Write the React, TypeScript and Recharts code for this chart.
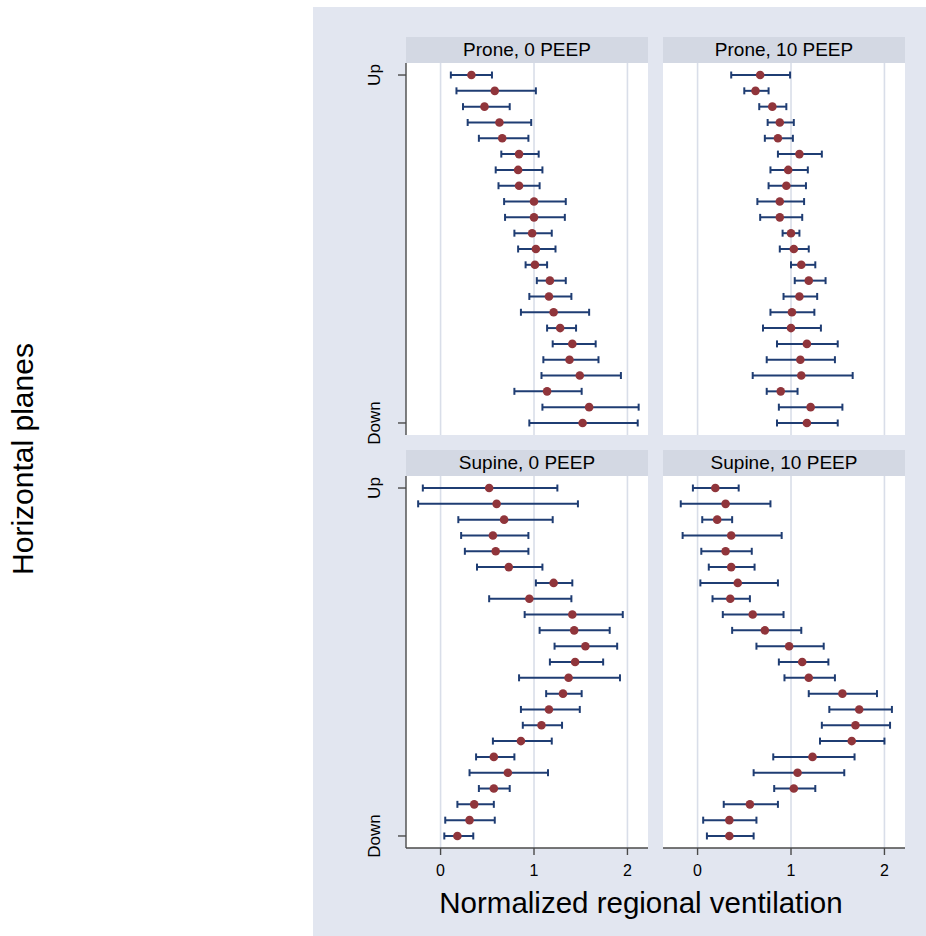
import { ScatterChart, Scatter, XAxis, YAxis, ErrorBar, ReferenceLine } from 'recharts'

// 23 horizontal planes, 1 = Up (top), 23 = Down (bottom)
const planes = [1, 2, 3, 4, 5, 6, 7, 8, 9, 10, 11, 12, 13, 14, 15, 16, 17, 18, 19, 20, 21, 22, 23]
const xTicks = [0, 1, 2]
const yTicks = [1, 23]
const yTickLabels = ['Up', 'Down']

const proneZeroMean = [0.33, 0.58, 0.47, 0.63, 0.66, 0.84, 0.83, 0.84, 1.0, 1.0, 0.98, 1.02, 1.01, 1.17, 1.16, 1.21, 1.28, 1.41, 1.38, 1.49, 1.14, 1.59, 1.52]
const proneZeroLo = [0.11, 0.17, 0.24, 0.29, 0.41, 0.65, 0.59, 0.62, 0.68, 0.69, 0.79, 0.83, 0.91, 1.03, 0.95, 0.86, 1.14, 1.2, 1.1, 1.08, 0.79, 1.09, 0.95]
const proneZeroHi = [0.55, 1.02, 0.74, 0.97, 0.94, 1.05, 1.09, 1.06, 1.34, 1.33, 1.19, 1.23, 1.14, 1.34, 1.4, 1.59, 1.45, 1.66, 1.69, 1.93, 1.51, 2.12, 2.11]

const proneTenMean = [0.67, 0.62, 0.8, 0.88, 0.86, 1.09, 0.97, 0.95, 0.88, 0.88, 1.0, 1.03, 1.11, 1.19, 1.09, 1.01, 1.0, 1.17, 1.1, 1.11, 0.89, 1.21, 1.17]
const proneTenLo = [0.36, 0.5, 0.66, 0.75, 0.72, 0.86, 0.78, 0.76, 0.64, 0.67, 0.91, 0.88, 1.0, 1.04, 0.92, 0.78, 0.7, 0.85, 0.74, 0.59, 0.74, 0.87, 0.85]
const proneTenHi = [0.99, 0.76, 0.95, 1.03, 1.02, 1.33, 1.18, 1.16, 1.14, 1.12, 1.09, 1.19, 1.26, 1.37, 1.28, 1.25, 1.32, 1.5, 1.47, 1.66, 1.07, 1.55, 1.5]

const supineZeroMean = [0.52, 0.6, 0.68, 0.56, 0.59, 0.73, 1.21, 0.95, 1.41, 1.43, 1.55, 1.44, 1.37, 1.31, 1.16, 1.08, 0.86, 0.57, 0.72, 0.57, 0.36, 0.31, 0.18]
const supineZeroLo = [-0.19, -0.24, 0.19, 0.22, 0.26, 0.39, 1.02, 0.52, 0.9, 1.06, 1.22, 1.17, 0.84, 1.13, 0.86, 0.88, 0.56, 0.38, 0.31, 0.41, 0.18, 0.05, 0.04]
const supineZeroHi = [1.25, 1.47, 1.2, 0.94, 0.94, 1.09, 1.41, 1.4, 1.95, 1.81, 1.89, 1.74, 1.92, 1.51, 1.49, 1.3, 1.19, 0.79, 1.15, 0.74, 0.57, 0.58, 0.35]

const supineTenMean = [0.19, 0.3, 0.21, 0.36, 0.3, 0.36, 0.43, 0.35, 0.59, 0.72, 0.98, 1.12, 1.19, 1.55, 1.73, 1.69, 1.65, 1.23, 1.07, 1.03, 0.56, 0.34, 0.34]
const supineTenLo = [-0.05, -0.18, 0.05, -0.16, 0.04, 0.12, 0.03, 0.16, 0.27, 0.37, 0.63, 0.87, 0.93, 1.19, 1.41, 1.33, 1.31, 0.81, 0.6, 0.82, 0.28, 0.06, 0.1]
const supineTenHi = [0.44, 0.78, 0.37, 0.9, 0.58, 0.61, 0.86, 0.56, 0.92, 1.11, 1.35, 1.4, 1.47, 1.92, 2.08, 2.06, 2.0, 1.68, 1.57, 1.26, 0.86, 0.63, 0.6]

const FONT = '"Liberation Sans", Arial, Helvetica, sans-serif'
const BG = '#E2E6F0'
const STRIP = '#D3D8E3'
const GRID = '#D9DEE9'
const NAVY = '#1F3D73'
const MAROON = '#90353B'
const AXIS = '#4A4A4A'

const PLOT_W = 242
const PLOT_H = 372
const Y_W = 50
const X_H = 44
const STRIP_H = 26
const PAD = 28 // room for the rotated "Down" label below the plot

function buildRows(mean: number[], lo: number[], hi: number[]) {
  return planes.map((p, i) => ({
    plane: p,
    value: mean[i],
    err: [mean[i] - lo[i], hi[i] - mean[i]],
  }))
}

function PlaneTick(props: any) {
  const { x, y, payload } = props
  const label = yTickLabels[yTicks.indexOf(payload.value)]
  const bx = x - 16
  return (
    <text
      x={bx}
      y={y}
      transform={`rotate(-90, ${bx}, ${y})`}
      textAnchor="middle"
      fontSize={17}
      fontFamily={FONT}
      fill="#000"
    >
      {label}
    </text>
  )
}

function Dot(props: any) {
  const { cx, cy } = props
  if (cx == null || cy == null) return null
  return <circle cx={cx} cy={cy} r={4.3} fill={MAROON} />
}

interface PanelProps {
  title: string
  mean: number[]
  lo: number[]
  hi: number[]
  plotLeft: number
  plotTop: number
  showY: boolean
  showX: boolean
}

function Panel({ title, mean, lo, hi, plotLeft, plotTop, showY, showX }: PanelProps) {
  const data = buildRows(mean, lo, hi)
  const yw = showY ? Y_W : 0
  const xh = showX ? X_H : 0
  const bottomPad = showX ? 0 : PAD
  return (
    <>
      <div
        style={{
          position: 'absolute',
          left: plotLeft,
          top: plotTop - STRIP_H,
          width: PLOT_W,
          height: STRIP_H,
          background: STRIP,
          textAlign: 'center',
          lineHeight: `${STRIP_H}px`,
          fontSize: 19,
          fontFamily: FONT,
          color: '#000',
        }}
      >
        {title}
      </div>
      <div
        style={{
          position: 'absolute',
          left: plotLeft,
          top: plotTop,
          width: PLOT_W,
          height: PLOT_H,
          background: '#fff',
        }}
      />
      <div style={{ position: 'absolute', left: plotLeft - yw, top: plotTop }}>
        <ScatterChart
          width={PLOT_W + yw}
          height={PLOT_H + xh + bottomPad}
          margin={{ top: 0, right: 0, bottom: bottomPad, left: 0 }}
        >
          <XAxis
            type="number"
            dataKey="value"
            domain={[-0.37, 2.22]}
            allowDataOverflow
            ticks={xTicks}
            hide={!showX}
            height={X_H}
            tickSize={7}
            tickMargin={10}
            tick={{ fontSize: 16, fill: '#000', fontFamily: FONT }}
            axisLine={{ stroke: AXIS, strokeWidth: 1.4 }}
            tickLine={{ stroke: AXIS, strokeWidth: 1.4 }}
          />
          <YAxis
            type="number"
            dataKey="plane"
            domain={[0.24, 23.76]}
            allowDataOverflow
            reversed
            ticks={yTicks}
            hide={!showY}
            width={Y_W}
            tickSize={8}
            tick={<PlaneTick />}
            axisLine={{ stroke: AXIS, strokeWidth: 1.4 }}
            tickLine={{ stroke: AXIS, strokeWidth: 1.4 }}
          />
          {xTicks.map((t) => (
            <ReferenceLine key={t} x={t} stroke={GRID} strokeWidth={1.6} />
          ))}
          <Scatter data={data} shape={<Dot />} isAnimationActive={false}>
            <ErrorBar
              dataKey="err"
              direction="x"
              width={3.5}
              stroke={NAVY}
              strokeWidth={2}
              isAnimationActive={false}
            />
          </Scatter>
        </ScatterChart>
      </div>
    </>
  )
}

export default function App() {
  return (
    <div style={{ position: 'absolute', left: 0, top: 0, width: 926, height: 936, background: '#fff', overflow: 'hidden' }}>
      <div style={{ position: 'absolute', left: 313, top: 7, width: 613, height: 929, background: BG }} />
      <Panel title="Prone, 0 PEEP" mean={proneZeroMean} lo={proneZeroLo} hi={proneZeroHi} plotLeft={406} plotTop={63} showY showX={false} />
      <Panel title="Prone, 10 PEEP" mean={proneTenMean} lo={proneTenLo} hi={proneTenHi} plotLeft={663} plotTop={63} showY={false} showX={false} />
      <Panel title="Supine, 0 PEEP" mean={supineZeroMean} lo={supineZeroLo} hi={supineZeroHi} plotLeft={406} plotTop={476} showY showX />
      <Panel title="Supine, 10 PEEP" mean={supineTenMean} lo={supineTenLo} hi={supineTenHi} plotLeft={663} plotTop={476} showY={false} showX />
      <svg width={926} height={936} style={{ position: 'absolute', left: 0, top: 0, pointerEvents: 'none' }}>
        <text x={641} y={913} textAnchor="middle" fontSize={29.5} fontFamily={FONT} fill="#000">
          Normalized regional ventilation
        </text>
        <text
          x={33}
          y={459}
          transform="rotate(-90, 33, 459)"
          textAnchor="middle"
          fontSize={30}
          fontFamily={FONT}
          fill="#000"
        >
          Horizontal planes
        </text>
      </svg>
    </div>
  )
}
